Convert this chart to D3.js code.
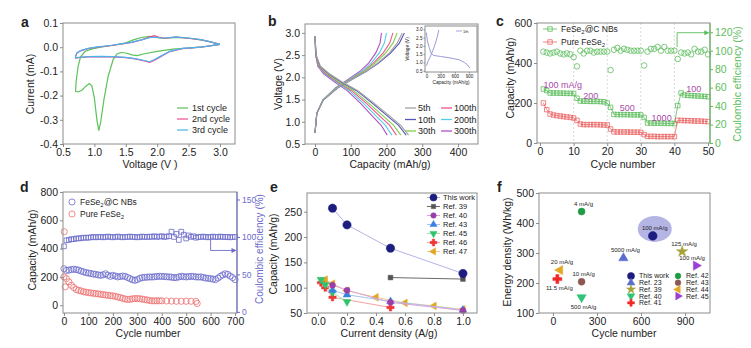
<!DOCTYPE html>
<html><head><meta charset="utf-8">
<script src="https://cdn.jsdelivr.net/npm/d3@7"></script>
<style>
body{margin:0;background:#fff}
svg{font-family:"Liberation Sans",Arial,sans-serif}
</style></head><body>
<svg width="751" height="348"></svg>
<script>
// ---------- data ----------
// a: CV curves [voltage, current]
var cv1 = [[3.0,0.012],[2.8,0.004],[2.5,-0.004],[2.25,-0.008],[2.0,-0.017],[1.8,-0.027],[1.68,-0.035],[1.6,-0.032],[1.5,-0.024],[1.42,-0.022],[1.36,-0.028],[1.3,-0.05],[1.22,-0.12],[1.15,-0.22],[1.1,-0.31],[1.07,-0.345],[1.04,-0.3],[1.0,-0.21],[0.96,-0.16],[0.92,-0.15],[0.87,-0.16],[0.8,-0.178],[0.74,-0.185],[0.7,-0.182],[0.71,-0.14],[0.74,-0.08],[0.78,-0.04],[0.85,-0.018],[0.95,-0.008],[1.1,0.0],[1.3,0.008],[1.5,0.018],[1.62,0.03],[1.75,0.04],[1.88,0.045],[2.0,0.04],[2.1,0.036],[2.3,0.041],[2.5,0.037],[2.7,0.03],[2.85,0.022],[3.0,0.012]];
var cv2 = [[3.0,0.012],[2.7,0.0],[2.4,-0.006],[2.2,-0.018],[2.05,-0.04],[1.95,-0.055],[1.88,-0.063],[1.8,-0.057],[1.65,-0.048],[1.5,-0.043],[1.3,-0.04],[1.1,-0.039],[0.9,-0.04],[0.75,-0.043],[0.7,-0.045],[0.7,-0.04],[0.72,-0.025],[0.78,-0.015],[0.9,-0.006],[1.05,0.0],[1.25,0.006],[1.45,0.014],[1.6,0.02],[1.75,0.03],[1.88,0.042],[1.95,0.048],[2.02,0.042],[2.12,0.037],[2.3,0.042],[2.5,0.037],[2.7,0.03],[2.85,0.022],[3.0,0.012]];
var cv3 = [[3.0,0.012],[2.7,0.0],[2.4,-0.005],[2.2,-0.017],[2.05,-0.038],[1.95,-0.052],[1.88,-0.06],[1.8,-0.055],[1.65,-0.047],[1.5,-0.042],[1.3,-0.039],[1.1,-0.038],[0.9,-0.039],[0.75,-0.042],[0.7,-0.044],[0.7,-0.038],[0.72,-0.024],[0.78,-0.014],[0.9,-0.005],[1.05,0.001],[1.25,0.007],[1.45,0.015],[1.6,0.021],[1.75,0.03],[1.88,0.039],[1.95,0.041],[2.05,0.038],[2.15,0.039],[2.3,0.043],[2.5,0.038],[2.7,0.031],[2.85,0.022],[3.0,0.012]];
var cvNames = ["1st cycle","2nd cycle","3rd cycle"];

// b: charge/discharge profiles
var cycleNames = ["5th","10th","30th","100th","200th","300th"];
var dischargeV = [2.92,2.5,2.25,2.08,1.9,1.7,1.42,1.12,0.92,0.7];
var dischargeQ = [
  [0,3,15,40,75,120,165,210,240,262],
  [0,3,14,38,72,116,160,204,234,255],
  [0,3,12,34,66,108,150,192,220,240],
  [0,2,10,30,62,102,143,182,209,228],
  [0,2,9,27,58,96,135,172,197,215],
  [0,2,8,24,54,90,127,161,185,202]];
var chargeV = [0.75,1.19,1.49,1.76,1.95,2.13,2.32,2.55,2.77,3.0];
var chargeQ = [
  [0,5,23,62,102,142,175,208,230,244],
  [0,5,23,63,103,143,178,212,236,250],
  [0,5,22,60,99,137,168,198,218,230],
  [0,5,23,60,98,135,163,191,209,218],
  [0,5,22,58,95,130,157,180,194,200],
  [0,5,22,57,92,125,150,170,182,186]];
var firstDischarge = [[0,2.8],[20,2.3],[60,1.9],[100,1.55],[150,1.42],[300,1.36],[500,1.27],[700,1.15],[800,1.0],[870,0.85],[920,0.65]];
var firstCharge = [[0,0.8],[40,1.1],[90,1.4],[140,1.75],[190,2.15],[230,2.55],[262,2.96]];

// c: rate performance, cycles 1..50
var rateCycles = d3.range(1, 51);
var rateNBs = [270,262,250,250,250,249,249,248,248,248, 224,210,209,209,208,208,208,207,206,200, 178,143,142,142,142,142,141,141,141,140, 128,100,100,99,99,99,98,98,98,97, 187,250,240,238,237,236,235,234,233,231];
var ratePure = [200,167,145,140,137,135,132,130,128,125, 113,95,92,92,92,92,92,91,90,90, 70,56,55,55,55,55,54,54,54,53, 42,33,33,33,32,32,32,32,32,32, 113,113,112,112,111,110,110,109,108,107];
var rateCE = [99,98,97,98,99,97,96,97,96,93, 83,100,97,100,100,98,99,99,99,99, 79,101,103,100,102,101,100,100,100,100, 84,99,102,102,104,100,104,100,100,100, 91,98,97,98,96,102,99,99,101,96];
var rateLabels = ["100 mA/g","200","500","1000","100"];
var rateLabelCycle = [6.8,15.1,26,36.2,45.8];
var rateLabelCap = [292,236,180,128,275];

// d: long cycling, every 10 cycles 0..700
var longCycles = d3.range(0, 701, 10);
var longNBs = [258,246,248,252,254,252,248,241,236,230,227,224,220,218,214,211,215,222,212,204,211,206,200,203,206,204,196,188,180,176,181,190,195,197,198,200,199,201,203,204,204,203,201,200,198,195,195,200,204,202,200,202,204,203,200,199,200,196,192,190,188,184,181,192,204,214,222,218,206,195,181];
var longCE = [87.5,95.5,96,97,97,98,98,98.5,99,99,99,99.5,100,99.5,100,100,99.5,100,100.5,100,99.5,100,100.5,100,99.5,100,100,100.5,100,100,99.5,100,100.5,100,100,100.5,100,101,100,100.5,101,100,100.5,101,107,100,104,96,107,103,98,102,100,101,99,100,100,100.5,100,99.5,100,100.5,100,100,100.5,100,100,100,99.5,100,100];
var longPure = [[0,200],[5,130],[10,188],[20,165],[30,141],[40,125],[50,111],[60,105],[70,101],[80,95],[90,92],[100,89],[110,87],[120,84],[130,82],[140,80],[150,77],[160,75],[170,72],[180,70],[190,68],[200,66],[210,63],[220,58],[230,54],[240,49],[250,44],[260,40],[270,42],[280,45],[290,47],[300,47],[310,46],[320,43],[330,40],[340,37],[350,34],[360,31],[370,31],[380,31],[390,31],[400,31],[420,30],[440,29],[460,28],[480,28],[500,28],[520,28],[540,27],[545,12]];
var longPureCE = [[1,107]];

// e: rate comparison
var eNames = ["This work","Ref. 39","Ref. 40","Ref. 43","Ref. 45","Ref. 46","Ref. 47"];
var eCurrent = [[0.1,0.2,0.5,1.0],[0.5,1.0],[0.1,0.2,0.5,1.0],[0.1,0.2,0.5,1.0],[0.02,0.05,0.1,0.2],[0.02,0.05,0.1,0.5],[0.05,0.1,0.2,0.4,0.6,0.8,1.0]];
var eCapacity = [[257,224,178,128],[120,117],[105,95,71,55],[95,86,73,56],[116,106,91,72],[110,100,81,61],[116,108,94,81,70,64,57]];

// f: energy density comparison
var fNames = ["This work","Ref. 23","Ref. 39","Ref. 40","Ref. 41","Ref. 42","Ref. 43","Ref. 44","Ref. 45"];
var fCycles = [680,480,880,195,30,195,195,48,975];
var fEnergy = [357,283,305,152,213,438,204,243,258];
var fRates = ["100 mA/g","5000 mA/g","125 mA/g","500 mA/g","11.5 mA/g","4 mA/g","10 mA/g","20 mA/g","100 mA/g"];

// ---------- helpers ----------
var svg = d3.select("svg");
var FRAME = "#8c8c8c", TXT = "#222";

function frame(x, y) {
  var r = x.range(), d = y.range();
  svg.append("rect").attr("x", r[0]).attr("y", d[1])
    .attr("width", r[1]-r[0]).attr("height", d[0]-d[1])
    .attr("fill", "none").attr("stroke", FRAME).attr("stroke-width", 1);
}
function styleAxis(g, color, size) {
  g.attr("font-family", null).attr("font-size", null);
  g.select(".domain").remove();
  g.selectAll(".tick line").attr("stroke", color || FRAME);
  g.selectAll(".tick text").attr("fill", color || TXT).style("font-size", (size || 10.5) + "px");
}
function axisB(x, y, vals, fmt, size, tick) {
  var g = svg.append("g").attr("transform", "translate(0," + y.range()[0] + ")")
    .call(d3.axisBottom(x).tickValues(vals).tickSize(tick || 3).tickPadding(tick ? 1 : 2).tickFormat(fmt || String));
  styleAxis(g, null, size);
  return g;
}
function axisL(x, y, vals, fmt, size, tick) {
  var g = svg.append("g").attr("transform", "translate(" + x.range()[0] + ",0)")
    .call(d3.axisLeft(y).tickValues(vals).tickSize(tick || 3).tickPadding(tick ? 1 : 2).tickFormat(fmt || String));
  styleAxis(g, null, size);
  return g;
}
function axisR(x, y, vals, color, size) {
  var g = svg.append("g").attr("transform", "translate(" + x.range()[1] + ",0)")
    .call(d3.axisRight(y).tickValues(vals).tickSize(3).tickPadding(2));
  styleAxis(g, color, size);
  svg.append("line").attr("x1", x.range()[1]).attr("x2", x.range()[1])
    .attr("y1", y.range()[0]).attr("y2", y.range()[1]).attr("stroke", color);
}
function text(t, x, y, opt) {
  opt = opt || {};
  var el = svg.append("text").attr("x", x).attr("y", y)
    .attr("font-size", opt.size || 10.5).attr("fill", opt.color || TXT)
    .attr("text-anchor", opt.anchor || "start")
    .attr("font-weight", opt.bold ? "bold" : null).text(t);
  return el;
}
function vtext(t, x, y, color, size) {
  svg.append("text").attr("transform", "translate(" + x + "," + y + ") rotate(-90)")
    .attr("text-anchor", "middle").attr("font-size", size || 10.5).attr("fill", color || TXT).text(t);
}
function fese(x, y, pre, post, size) {
  var t = svg.append("text").attr("x", x).attr("y", y).attr("font-size", size).attr("fill", TXT);
  t.append("tspan").text(pre + "FeSe");
  t.append("tspan").attr("dy", 2).attr("font-size", size * 0.7).text("2");
  t.append("tspan").attr("dy", -2).text(post);
}
var shapes = {
  circle: [d3.symbolCircle, 0], square: [d3.symbolSquare, 0], up: [d3.symbolTriangle, 0],
  down: [d3.symbolTriangle, 180], left: [d3.symbolTriangle, -90], right: [d3.symbolTriangle, 90],
  star: [d3.symbolStar, 0], cross: [d3.symbolCross, 0]
};
function mark(shape, cx, cy, color, size, open) {
  var s = shapes[shape];
  svg.append("path").attr("d", d3.symbol().type(s[0]).size(size)())
    .attr("transform", "translate(" + cx + "," + cy + ") rotate(" + s[1] + ")")
    .attr("fill", open ? "none" : color).attr("stroke", color)
    .attr("stroke-width", open ? 0.8 : 0.5);
}
var line = d3.line();

// panel letters
text("a", 21, 27, {size: 14, bold: true});
text("b", 268, 26, {size: 14, bold: true});
text("c", 496, 26, {size: 14, bold: true});
text("d", 20, 192, {size: 14, bold: true});
text("e", 270, 192, {size: 14, bold: true});
text("f", 497, 192, {size: 14, bold: true});

// ---------- a ----------
(function () {
  var x = d3.scaleLinear().domain([0.5, 3.24]).range([63, 235]);
  var y = d3.scaleLinear().domain([-0.4, 0.1]).range([144, 23]);
  var cols = ["#5cc25a", "#ec4a92", "#4bb3ea"];
  [cv1, cv2, cv3].forEach(function (c, i) {
    svg.append("path").attr("d", line(c.map(function (p) { return [x(p[0]), y(p[1])]; })))
      .attr("fill", "none").attr("stroke", cols[i]).attr("stroke-width", 1.2);
  });
  frame(x, y);
  axisB(x, y, [0.5, 1.0, 1.5, 2.0, 2.5, 3.0], function (d) { return d.toFixed(1); });
  axisL(x, y, [-0.4, -0.3, -0.2, -0.1, 0.0, 0.1], function (d) { return d.toFixed(1); });
  vtext("Current (mA)", 34, 84);
  text("Voltage (V )", 150, 168, {anchor: "middle"});
  cvNames.forEach(function (n, i) {
    var yy = 108 + i * 11;
    svg.append("line").attr("x1", 177).attr("x2", 188).attr("y1", yy).attr("y2", yy)
      .attr("stroke", cols[i]).attr("stroke-width", 1.2);
    text(n, 192, yy + 3, {size: 9});
  });
})();

// ---------- b ----------
(function () {
  var x = d3.scaleLinear().domain([-28, 456]).range([305, 478]);
  var y = d3.scaleLinear().domain([0.5, 3.2]).range([144, 24]);
  var cols = ["#a3a3a3", "#5656b8", "#7fd04a", "#f2558f", "#52d0e2", "#b24fc6"];
  for (var i = cycleNames.length - 1; i >= 0; i--) {
    svg.append("path").attr("d", line(dischargeQ[i].map(function (q, k) { return [x(q), y(dischargeV[k])]; })))
      .attr("fill", "none").attr("stroke", cols[i]).attr("stroke-width", 1.1);
    svg.append("path").attr("d", line(chargeQ[i].map(function (q, k) { return [x(q), y(chargeV[k])]; })))
      .attr("fill", "none").attr("stroke", cols[i]).attr("stroke-width", 1.1);
  }
  frame(x, y);
  axisB(x, y, [0, 100, 200, 300, 400]);
  axisL(x, y, [0.5, 1.0, 1.5, 2.0, 2.5, 3.0], function (d) { return d.toFixed(1); });
  vtext("Voltage (V)", 282, 84);
  text("Capacity (mAh/g)", 390, 168, {anchor: "middle"});
  cycleNames.forEach(function (n, i) {
    var col = Math.floor(i / 3), row = i % 3;
    var lx = col ? 441 : 405, yy = 108 + row * 11.5;
    svg.append("line").attr("x1", lx).attr("x2", lx + 11).attr("y1", yy).attr("y2", yy)
      .attr("stroke", cols[i]).attr("stroke-width", 1.3);
    text(n, lx + 13, yy + 3, {size: 9});
  });
  // inset
  var ix = d3.scaleLinear().domain([-30, 1070]).range([425, 477]);
  var iy = d3.scaleLinear().domain([0.42, 3.2]).range([72, 26]);
  svg.append("rect").attr("x", 425).attr("y", 26).attr("width", 52).attr("height", 46).attr("fill", "#fff");
  [firstDischarge, firstCharge].forEach(function (c) {
    svg.append("path").attr("d", line(c.map(function (p) { return [ix(p[0]), iy(p[1])]; })))
      .attr("fill", "none").attr("stroke", "#8f8fd6").attr("stroke-width", 0.9);
  });
  frame(ix, iy);
  axisB(ix, iy, [0, 300, 600, 900], null, 4.6, 1.5);
  axisL(ix, iy, [0.5, 1.0, 1.5, 2.0, 2.5, 3.0], function (d) { return d.toFixed(1); }, 4.6, 1.5);
  svg.append("text").attr("x", 451).attr("y", 83.5).attr("text-anchor", "middle").attr("font-size", 4.8).attr("fill", TXT).text("Capacity (mAh/g)");
  svg.append("text").attr("transform", "translate(409,49) rotate(-90)").attr("text-anchor", "middle").attr("font-size", 4.8).attr("fill", TXT).text("Voltage (V)");
  svg.append("line").attr("x1", 456).attr("x2", 462).attr("y1", 31).attr("y2", 31).attr("stroke", "#8f8fd6").attr("stroke-width", 0.8);
  svg.append("text").attr("x", 463).attr("y", 32.5).attr("font-size", 4).attr("fill", TXT).text("1th");
})();

// ---------- c ----------
(function () {
  var x = d3.scaleLinear().domain([-0.9, 50.6]).range([537, 710]);
  var y = d3.scaleLinear().domain([0, 600]).range([143, 23]);
  var yr = d3.scaleLinear().domain([0, 130]).range([143, 23]);
  var green = "#5cbd5c", red = "#ec6464", purple = "#a84aa8";
  [10, 20, 30, 40].forEach(function (c) {
    svg.append("line").attr("x1", x(c)).attr("x2", x(c)).attr("y1", 23).attr("y2", 143)
      .attr("stroke", "#d0d0d0").attr("stroke-dasharray", "2,2").attr("stroke-width", 0.8);
  });
  [[rateNBs, green], [ratePure, red]].forEach(function (s) {
    svg.append("path").attr("d", line(s[0].map(function (v, i) { return [x(rateCycles[i]), y(v)]; })))
      .attr("fill", "none").attr("stroke", s[1]).attr("stroke-width", 0.8);
    s[0].forEach(function (v, i) { mark("square", x(rateCycles[i]), y(v), s[1], 20, true); });
  });
  rateCE.forEach(function (v, i) { mark("circle", x(rateCycles[i]), yr(v), green, 24, true); });
  rateLabels.forEach(function (t, i) {
    text(t, x(rateLabelCycle[i]), y(rateLabelCap[i]) + 3.5, {size: 9, color: purple, anchor: "middle"});
  });
  // arrow to right axis
  var ax = x(40.8);
  svg.append("path").attr("d", line([[ax, yr(104)], [ax, yr(119.5)], [x(50.2), yr(119.5)]]))
    .attr("fill", "none").attr("stroke", green).attr("stroke-width", 0.9);
  svg.append("path").attr("d", "M" + (x(50.4)) + "," + yr(119.5) + "l-5,-2.5v5z").attr("fill", green);
  frame(x, y);
  axisB(x, y, [0, 10, 20, 30, 40, 50]);
  axisL(x, y, [0, 200, 400, 600]);
  axisR(x, yr, [0, 20, 40, 60, 80, 100, 120], green);
  vtext("Capacity (mAh/g)", 514, 78);
  vtext("Coulombic efficiency (%)", 741, 84, green);
  text("Cycle number", 623, 168, {anchor: "middle"});
  // legend
  [[green, 29, "", "@C NBs"], [red, 42, "Pure ", ""]].forEach(function (l) {
    svg.append("line").attr("x1", 543).attr("x2", 557).attr("y1", l[1]).attr("y2", l[1]).attr("stroke", l[0]).attr("stroke-width", 0.8);
    mark("square", 550, l[1], l[0], 20, true);
    fese(561, l[1] + 3, l[2], l[3], 8.5);
  });
})();

// ---------- d ----------
(function () {
  var x = d3.scaleLinear().domain([-4, 708]).range([63, 237]);
  var y = d3.scaleLinear().domain([-55, 800]).range([313, 192]);
  var yr = d3.scaleLinear().domain([-1.5, 160]).range([313, 192]);
  var blue = "#6b6bcb", red = "#ec7070";
  longCE.forEach(function (v, i) { mark("square", x(longCycles[i]), yr(v), blue, 22, true); });
  longNBs.forEach(function (v, i) { mark("circle", x(longCycles[i]), y(v), blue, 30, true); });
  longPure.forEach(function (p) { mark("circle", x(p[0]), y(p[1]), red, 30, true); });
  longPureCE.forEach(function (p) { mark("circle", x(p[0]), yr(p[1]), red, 30, true); });
  var ax = x(600);
  svg.append("path").attr("d", line([[ax, yr(100)], [ax, yr(82)], [x(703), yr(82)]]))
    .attr("fill", "none").attr("stroke", blue).attr("stroke-width", 0.9);
  svg.append("path").attr("d", "M" + x(706) + "," + yr(82) + "l-5,-2.5v5z").attr("fill", blue);
  frame(x, y);
  axisB(x, y, [0, 100, 200, 300, 400, 500, 600, 700]);
  axisL(x, y, [0, 200, 400, 600, 800]);
  axisR(x, yr, [0, 50, 100, 150], blue, 8.5);
  vtext("Capacity (mAh/g)", 36, 250);
  vtext("Coulombic efficiency (%)", 263, 249, blue, 10);
  text("Cycle number", 148, 337, {anchor: "middle"});
  mark("circle", 72, 202, blue, 30, true);
  fese(80, 205, "", "@C NBs", 8.5);
  mark("circle", 72, 214, red, 30, true);
  fese(80, 217, "Pure ", "", 8.5);
})();

// ---------- e ----------
(function () {
  var x = d3.scaleLinear().domain([-0.076, 1.097]).range([307, 477]);
  var y = d3.scaleLinear().domain([50, 287]).range([313, 193]);
  var cols = ["#1d1d80", "#555555", "#9a3fa8", "#3a80e0", "#2ec46a", "#f03434", "#e2a623"];
  var lcols = ["#b4b4e6", "#6a6a6a", "#dba2dc", "#a4c4f2", "#a4e4b8", "#f4a4a4", "#f0d290"];
  var shp = ["circle", "square", "circle", "up", "down", "cross", "left"];
  var sz = [55, 22, 28, 26, 26, 30, 26];
  for (var i = eNames.length - 1; i >= 0; i--) {
    svg.append("path").attr("d", line(eCurrent[i].map(function (c, k) { return [x(c), y(eCapacity[i][k])]; })))
      .attr("fill", "none").attr("stroke", lcols[i]).attr("stroke-width", 1);
    for (var k = 0; k < eCurrent[i].length; k++) mark(shp[i], x(eCurrent[i][k]), y(eCapacity[i][k]), cols[i], sz[i]);
  }
  frame(x, y);
  axisB(x, y, [0, 0.2, 0.4, 0.6, 0.8, 1.0], function (d) { return d.toFixed(1); });
  axisL(x, y, [50, 100, 150, 200, 250]);
  vtext("Capacity (mAh/g)", 277, 254);
  text("Current density (A/g)", 389, 337, {anchor: "middle"});
  eNames.forEach(function (n, i) {
    var yy = 197.5 + i * 9;
    svg.append("line").attr("x1", 427).attr("x2", 440).attr("y1", yy).attr("y2", yy).attr("stroke", lcols[i]).attr("stroke-width", 1);
    mark(shp[i], 433.5, yy, cols[i], i === 0 ? 40 : sz[i] * 0.85);
    text(n, 443, yy + 2.6, {size: 7.5});
  });
})();

// ---------- f ----------
(function () {
  var x = d3.scaleLinear().domain([-95, 1070]).range([539, 710]);
  var y = d3.scaleLinear().domain([100, 500]).range([313, 193]);
  var cols = ["#1d1d80", "#5b6ccf", "#a6a23a", "#2fc47a", "#f02828", "#1f9a45", "#8a5a52", "#e3a826", "#9a3fd6"];
  var shp = ["circle", "up", "star", "down", "cross", "circle", "circle", "left", "right"];
  var sz = [60, 38, 40, 38, 45, 38, 38, 38, 38];
  var below = {"Ref. 40": 10, "Ref. 41": 9};
  svg.append("ellipse").attr("cx", x(fCycles[0]) + 2).attr("cy", y(fEnergy[0]) - 7)
    .attr("rx", 17).attr("ry", 13).attr("fill", "#a7a7e0").attr("opacity", 0.85);
  fNames.forEach(function (n, i) {
    mark(shp[i], x(fCycles[i]), y(fEnergy[i]), cols[i], sz[i]);
    var dy = below[n] ? below[n] + 2 : -6;
    var dx = n === "Ref. 45" ? -4 : 2;
    text(fRates[i], x(fCycles[i]) + dx, y(fEnergy[i]) + dy, {size: 6, anchor: "middle"});
  });
  frame(x, y);
  axisB(x, y, [0, 300, 600, 900]);
  axisL(x, y, [100, 200, 300, 400, 500]);
  vtext("Energy density (Wh/kg)", 511, 252);
  text("Cycle number", 624, 337, {anchor: "middle"});
  fNames.forEach(function (n, i) {
    var col = i < 5 ? 0 : 1, row = i < 5 ? i : i - 5;
    var mx = col ? 678 : 631, yy = 276 + row * 6.7;
    mark(shp[i], mx, yy, cols[i], i === 0 ? 40 : 26);
    text(n, mx + 8, yy + 2.4, {size: 7});
  });
})();
</script>
</body></html>
